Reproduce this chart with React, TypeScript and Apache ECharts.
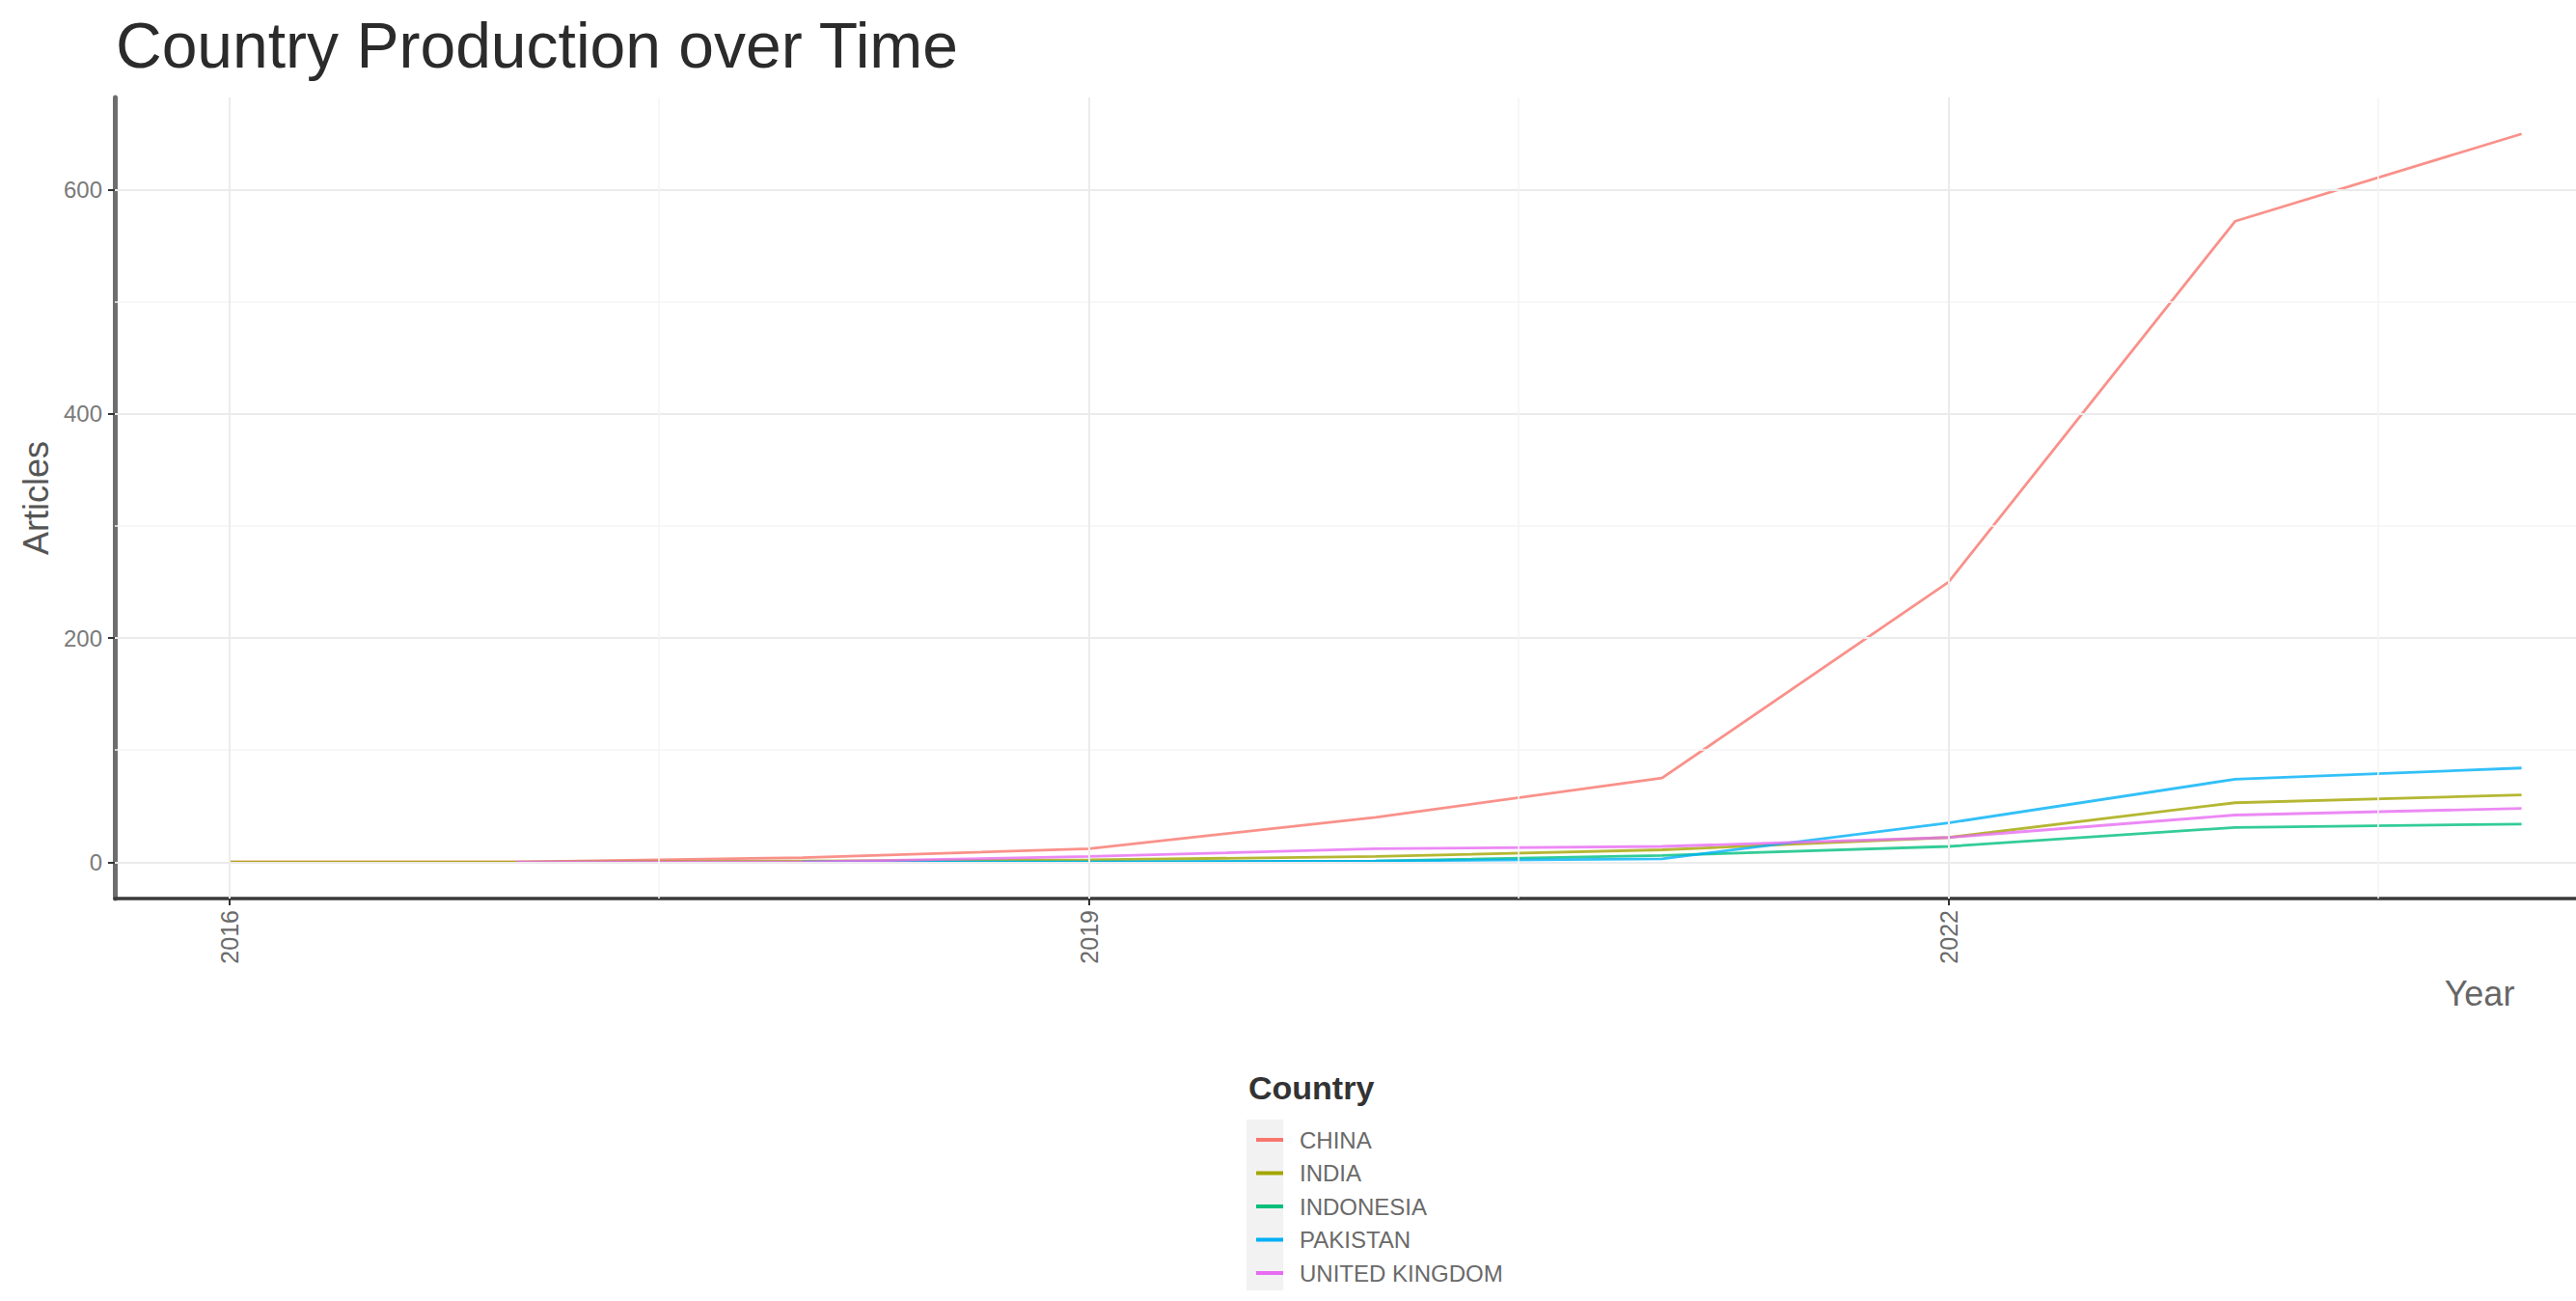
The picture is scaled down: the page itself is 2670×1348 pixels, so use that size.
import React, { useEffect, useRef } from "react";
import * as echarts from "echarts";

const years = [2016, 2017, 2018, 2019, 2020, 2021, 2022, 2023, 2024];
const countries = ["CHINA", "INDIA", "INDONESIA", "PAKISTAN", "UNITED KINGDOM"];
const china = [0, 0, 4, 12, 40, 75, 250, 572, 650];
const india = [0, 0, 1, 2, 5, 11, 22, 53, 60];
const indonesia = [null, null, 0, 0, 1, 6, 14, 31, 34];
const pakistan = [null, null, 0, 0, 1, 3, 35, 74, 84];
const unitedKingdom = [null, 0, 0, 5, 12, 14, 22, 42, 48];
const colors = ["#F8766D", "#A3A500", "#00BF7D", "#00B0F6", "#E76BF3"];
const yTicks = [0, 200, 400, 600];
const yMinor = [100, 300, 500];
const xTicks = [2016, 2019, 2022];
const xMinor = [2017.5, 2020.5, 2023.5];

const FONT = "Liberation Sans";

export default function App() {
  const ref = useRef<HTMLDivElement>(null);
  useEffect(() => {
    if (!ref.current) return;
    const chart = echarts.init(ref.current, null, { renderer: "svg" });
    const values = [china, india, indonesia, pakistan, unitedKingdom];
    const series: any[] = countries.map((c, i) => ({
      name: c,
      type: "line",
      z: 3,
      showSymbol: false,
      symbol: "none",
      connectNulls: false,
      lineStyle: { width: 2.8, color: colors[i], opacity: 0.8 },
      itemStyle: { color: colors[i] },
      data: years.map((y, j) => [y, values[i][j]]),
    }));
    const major = { color: "#ebebeb", width: 2, type: "solid" };
    const minor = { color: "#f4f4f4", width: 1.5, type: "solid" };
    series.push({
      name: "grid",
      type: "line",
      z: 1,
      data: [],
      silent: true,
      markLine: {
        silent: true,
        symbol: "none",
        label: { show: false },
        animation: false,
        data: [
          ...yTicks.map((v) => ({ yAxis: v, lineStyle: major })),
          ...yMinor.map((v) => ({ yAxis: v, lineStyle: minor })),
          ...xTicks.map((v) => ({ xAxis: v, lineStyle: major })),
          ...xMinor.map((v) => ({ xAxis: v, lineStyle: minor })),
        ],
      },
    });
    chart.setOption({
      animation: false,
      backgroundColor: "#ffffff",
      textStyle: { fontFamily: FONT },
      title: [
        {
          text: "Country Production over Time",
          left: 120,
          top: 14,
          padding: 0,
          textStyle: { fontFamily: FONT, fontSize: 66, fontWeight: "normal", color: "#2b2b2b" },
        },
        {
          text: "Country",
          left: 1294,
          top: 1110,
          padding: 0,
          textStyle: { fontFamily: FONT, fontSize: 34, fontWeight: "bold", color: "#333333" },
        },
      ],
      grid: { left: 119, right: 0, top: 101, bottom: 417, containLabel: false },
      xAxis: {
        type: "value",
        min: 2015.6,
        max: 2024.19,
        axisLine: { show: true, onZero: false, lineStyle: { color: "#3a3a3a", width: 3.5 } },
        axisTick: { show: true, length: 7, lineStyle: { color: "#333", width: 2 }, customValues: xTicks },
        splitLine: { show: false },
        axisLabel: {
          customValues: xTicks,
          rotate: 90,
          margin: 12,
          fontSize: 25,
          color: "#6a6a6a",
          fontFamily: FONT,
          formatter: (v: number) => String(v),
        },
      },
      yAxis: {
        type: "value",
        min: -32.5,
        max: 682.5,
        name: "Articles",
        nameLocation: "middle",
        nameRotate: 90,
        nameGap: 64,
        nameTextStyle: { fontSize: 36, color: "#555555", fontFamily: FONT },
        axisLine: { show: true, onZero: false, lineStyle: { color: "#6e6e6e", width: 5 } },
        axisTick: { show: true, length: 7, lineStyle: { color: "#333", width: 2 }, customValues: yTicks },
        splitLine: { show: false },
        axisLabel: {
          customValues: yTicks,
          margin: 13,
          fontSize: 24,
          color: "#7a7a7a",
          fontFamily: FONT,
        },
      },
      legend: {
        orient: "vertical",
        left: 1297,
        top: 1164,
        itemWidth: 28,
        itemHeight: 4,
        itemGap: 10.5,
        icon: "rect",
        data: countries,
        z: 10,
        textStyle: { fontSize: 24, lineHeight: 24, color: "#6a6a6a", fontFamily: FONT, padding: [0, 0, 0, 12] },
      },
      graphic: [
        {
          type: "rect",
          z: 0,
          shape: { x: 1292, y: 1160, width: 38, height: 177 },
          style: { fill: "#f2f2f2" },
        },
        {
          type: "text",
          x: 2570,
          y: 1029,
          style: {
            text: "Year",
            fontSize: 36,
            fontFamily: FONT,
            fill: "#666666",
            align: "center",
            verticalAlign: "middle",
          },
        },
      ],
      series,
    });
    return () => chart.dispose();
  }, []);
  return <div ref={ref} style={{ width: 2670, height: 1348, position: "absolute", left: 0, top: 0 }} />;
}
